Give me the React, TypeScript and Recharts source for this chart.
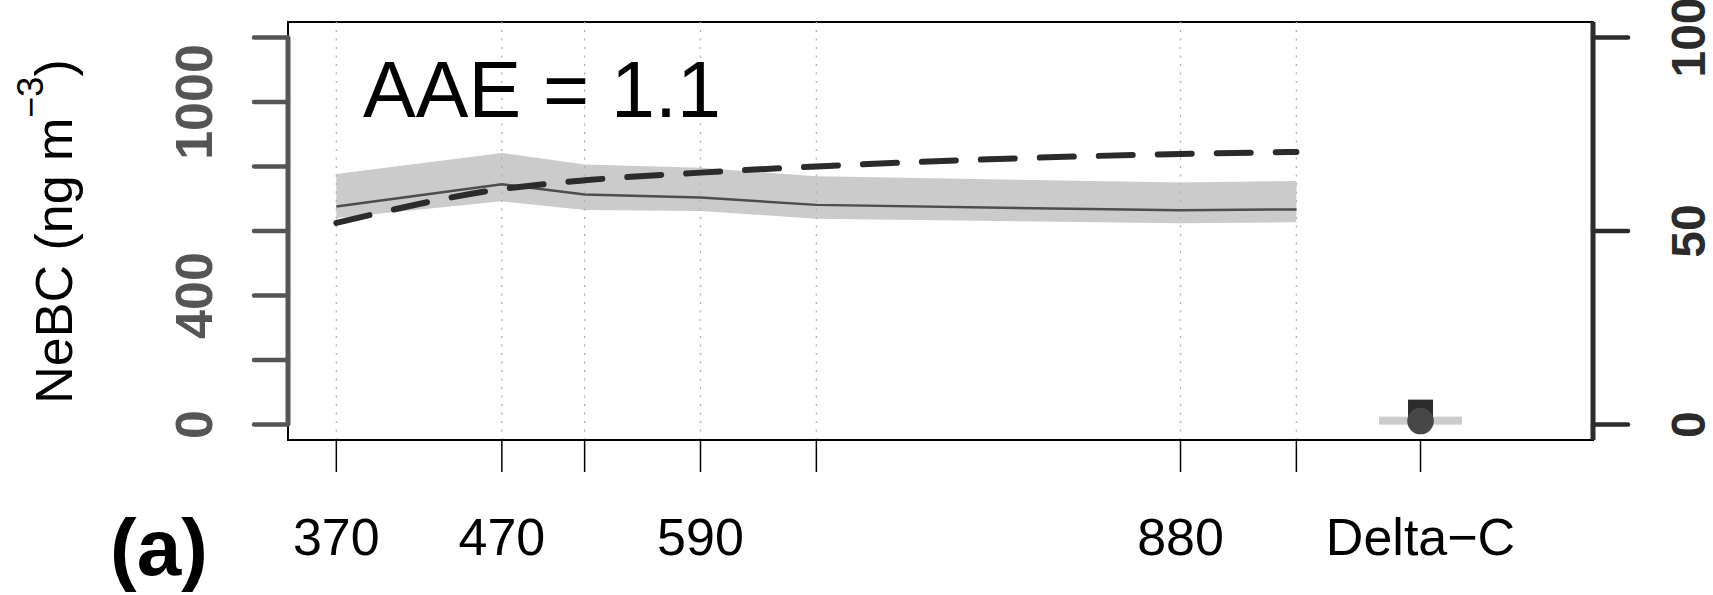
import React from 'react'
import { Area, ComposedChart, Line, ReferenceArea, ReferenceLine, Scatter, XAxis, YAxis } from 'recharts'

// NeBC per wavelength (ng m-3), band = uncertainty range, fit = AAE power-law fit
const wavelengths = [370, 470, 520, 590, 660, 880, 950]
const nebcMean = [676, 745, 713, 704, 681, 664, 667]
const nebcLow = [640, 692, 665, 662, 638, 624, 627]
const nebcHigh = [777, 842, 806, 796, 770, 750, 755]
const aaeFit = [625, 730, 757, 781, 800, 839, 845]

const xTicks = [370, 470, 520, 590, 660, 880, 950, 1025]
const xTickLabels = ['370', '470', '', '590', '', '880', '', 'Delta−C']
const leftTicks = [0, 200, 400, 600, 800, 1000, 1200]
const leftTickLabels = ['0', '', '400', '', '', '1000', '']
const rightTicks = [0, 50, 100]

// Delta-C (right axis)
const deltaCPosition = 1025
const deltaCBand = [1.0]
const deltaCSquare = [3.2]
const deltaCCircle = [0.9]

const rows = wavelengths.map((x, i) => ({
  x,
  mean: nebcMean[i],
  band: [nebcLow[i], nebcHigh[i]],
  fit: aaeFit[i],
}))

const FONT = '"Liberation Sans", Arial, Helvetica, sans-serif'
const X_DOMAIN: [number, number] = [340.8, 1129.2]

const LeftTick = (props: any) => {
  const { x, y, payload } = props
  const label = leftTickLabels[leftTicks.indexOf(payload.value)]
  if (!label) return <g />
  return (
    <text x={x} y={y} transform={`rotate(-90 ${x} ${y})`} textAnchor="middle"
      fontSize={52} fontWeight="bold" fill="#555" fontFamily={FONT}>{label}</text>
  )
}

const RightTick = (props: any) => {
  const { x, y, payload } = props
  return (
    <text x={x} y={y} transform={`rotate(-90 ${x} ${y})`} textAnchor="middle"
      fontSize={48} fontWeight="bold" fill="#2b2b2b" fontFamily={FONT}>{payload.value}</text>
  )
}

const BottomTick = (props: any) => {
  const { x, y, payload } = props
  const label = xTickLabels[xTicks.indexOf(payload.value)]
  if (!label) return <g />
  return (
    <text x={x} y={y + 83} textAnchor="middle" fontSize={52} fill="#000" fontFamily={FONT}>{label}</text>
  )
}

const App = () => {
  return (
    <div style={{ position: 'absolute', left: 0, top: 0, width: 1713, height: 595, background: '#fff' }}>
      <ComposedChart width={1713} height={595} data={rows} margin={{ top: 22, right: 0, bottom: 0, left: 0 }}>
        <XAxis dataKey="x" type="number" domain={X_DOMAIN} allowDataOverflow ticks={xTicks} interval={0}
          height={155} tickSize={32} tickMargin={0}
          axisLine={{ stroke: '#000', strokeWidth: 2 }} tickLine={{ stroke: '#000', strokeWidth: 1.5 }}
          tick={<BottomTick />} />
        <YAxis yAxisId="left" width={288} domain={[-48, 1248]} allowDataOverflow ticks={leftTicks} interval={0}
          tickSize={34} tickMargin={42} axisLine={false}
          tickLine={{ stroke: '#555', strokeWidth: 4.5, strokeLinecap: 'round' }} tick={<LeftTick />} />
        <YAxis yAxisId="right" orientation="right" width={120} domain={[-4, 104]} allowDataOverflow
          ticks={rightTicks} interval={0} tickSize={35} tickMargin={77}
          axisLine={{ stroke: '#2b2b2b', strokeWidth: 5 }}
          tickLine={{ stroke: '#2b2b2b', strokeWidth: 4.5, strokeLinecap: 'round' }} tick={<RightTick />} />

        <ReferenceArea yAxisId="left" x1={X_DOMAIN[0]} x2={X_DOMAIN[1]} y1={-48} y2={1248}
          fill="none" fillOpacity={0} stroke="#000" strokeWidth={2} ifOverflow="visible" />

        <Area yAxisId="left" dataKey="band" type="linear" stroke="none" fill="#cbcbcb" fillOpacity={1}
          isAnimationActive={false} />

        {wavelengths.map((w) => (
          <ReferenceLine key={w} yAxisId="left" x={w} stroke="#b0b0b0" strokeWidth={1.3} strokeDasharray="2 6.5" />
        ))}

        <ReferenceLine yAxisId="left" segment={[{ x: X_DOMAIN[0], y: 0 }, { x: X_DOMAIN[0], y: 1200 }]}
          stroke="#555" strokeWidth={5} ifOverflow="visible" />

        <Line yAxisId="left" dataKey="mean" type="linear" stroke="#4d4d4d" strokeWidth={2.5} dot={false}
          isAnimationActive={false} />
        <Line yAxisId="left" dataKey="fit" type="monotone" stroke="#2b2b2b" strokeWidth={6} strokeDasharray="34 25"
          strokeLinecap="round" dot={false} isAnimationActive={false} />

        <Scatter yAxisId="right" data={deltaCBand.map((y) => ({ x: deltaCPosition, y }))} dataKey="y"
          isAnimationActive={false}
          shape={(p: any) => <rect x={p.cx - 41.5} y={p.cy - 4} width={83} height={8} fill="#cccccc" />} />
        <Scatter yAxisId="right" data={deltaCSquare.map((y) => ({ x: deltaCPosition, y }))} dataKey="y"
          isAnimationActive={false}
          shape={(p: any) => <rect x={p.cx - 12.5} y={p.cy - 12.5} width={25} height={25} fill="#2b2b2b" />} />
        <Scatter yAxisId="right" data={deltaCCircle.map((y) => ({ x: deltaCPosition, y }))} dataKey="y"
          isAnimationActive={false}
          shape={(p: any) => <circle cx={p.cx} cy={p.cy} r={13.3} fill="#474747" />} />
      </ComposedChart>

      <svg width={1713} height={595} style={{ position: 'absolute', left: 0, top: 0, pointerEvents: 'none' }}>
        <text x={72} y={231.5} transform="rotate(-90 72 231.5)" textAnchor="middle" fontSize={52} fontFamily={FONT}
          fill="#000">
          NeBC (ng m<tspan dy={-29} fontSize={36}>−3</tspan><tspan dy={29}>)</tspan>
        </text>
        <text x={363} y={117} fontSize={79} fontFamily={FONT} fill="#000">AAE = 1.1</text>
        <text x={110} y={575} fontSize={80} fontWeight="bold" fontFamily={FONT} fill="#000">(a)</text>
      </svg>
    </div>
  )
}

export default App
